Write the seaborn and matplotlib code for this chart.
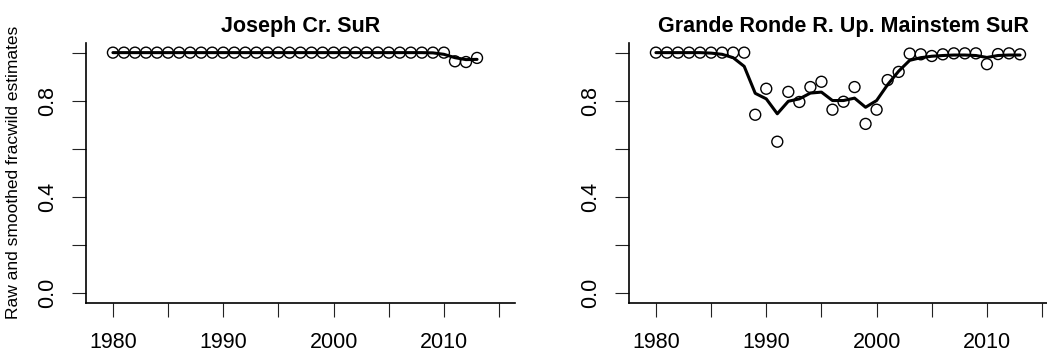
import pandas as pd
import matplotlib
matplotlib.use("Agg")
import matplotlib.pyplot as plt
import seaborn as sns

# style: R base-graphics look (white, L-shaped box, outward ticks)
sns.set_style("ticks")
plt.rcParams["font.family"] = ["Liberation Sans", "DejaVu Sans"]
plt.rcParams.update({"text.color": "black", "axes.labelcolor": "black",
                     "xtick.color": "black", "ytick.color": "black"})

# data
years = [1980, 1981, 1982, 1983, 1984, 1985, 1986, 1987, 1988, 1989,
         1990, 1991, 1992, 1993, 1994, 1995, 1996, 1997, 1998, 1999,
         2000, 2001, 2002, 2003, 2004, 2005, 2006, 2007, 2008, 2009,
         2010, 2011, 2012, 2013]

joseph_raw = [1.0, 1.0, 1.0, 1.0, 1.0, 1.0, 1.0, 1.0, 1.0, 1.0,
              1.0, 1.0, 1.0, 1.0, 1.0, 1.0, 1.0, 1.0, 1.0, 1.0,
              1.0, 1.0, 1.0, 1.0, 1.0, 1.0, 1.0, 1.0, 1.0, 1.0,
              1.0, 0.964, 0.961, 0.978]
joseph_smooth = [1.0, 1.0, 1.0, 1.0, 1.0, 1.0, 1.0, 1.0, 1.0, 1.0,
                 1.0, 1.0, 1.0, 1.0, 1.0, 1.0, 1.0, 1.0, 1.0, 1.0,
                 1.0, 1.0, 1.0, 1.0, 1.0, 1.0, 1.0, 1.0, 1.0, 0.999,
                 0.993, 0.979, 0.971, 0.972]

grande_raw = [1.0, 1.0, 1.0, 1.0, 1.0, 1.0, 1.0, 1.0, 1.0, 0.742,
              0.850, 0.630, 0.837, 0.795, 0.857, 0.879, 0.763, 0.796, 0.857, 0.704,
              0.763, 0.886, 0.920, 0.996, 0.993, 0.986, 0.993, 0.997, 0.997, 0.997,
              0.952, 0.994, 0.997, 0.993]
grande_smooth = [1.0, 1.0, 1.0, 1.0, 1.0, 0.998, 0.993, 0.979, 0.943, 0.831,
                 0.808, 0.746, 0.798, 0.808, 0.832, 0.836, 0.801, 0.801, 0.811, 0.773,
                 0.801, 0.867, 0.923, 0.968, 0.979, 0.985, 0.988, 0.990, 0.990, 0.988,
                 0.980, 0.988, 0.990, 0.990]

titles = ["Joseph Cr. SuR", "Grande Ronde R. Up. Mainstem SuR"]
ylabel = "Raw and smoothed fracwild estimates"

fig = plt.figure(figsize=(10.47, 3.6), dpi=100)
ax1 = fig.add_axes([86 / 1047, 57 / 360, 429 / 1047, 260 / 360])
ax2 = fig.add_axes([629 / 1047, 57 / 360, 429 / 1047, 260 / 360])

panels = [(ax1, joseph_raw, joseph_smooth), (ax2, grande_raw, grande_smooth)]
for i, (ax, raw, smooth) in enumerate(panels):
    df = pd.DataFrame({"year": years, "raw": raw, "smooth": smooth})
    sns.lineplot(data=df, x="year", y="smooth", ax=ax, color="black",
                 linewidth=2.2, zorder=2)
    sns.scatterplot(data=df, x="year", y="raw", ax=ax, marker="o", s=62,
                    facecolor="none", edgecolor="black", linewidth=1.0, zorder=3)

    ax.set_xlim(1977.56, 2016.44)
    ax.set_ylim(-0.04, 1.04)
    ax.set_xticks([1980, 1985, 1990, 1995, 2000, 2005, 2010, 2015])
    ax.set_xticklabels(["1980", "", "1990", "", "2000", "", "2010", ""])
    ax.set_yticks([0.0, 0.2, 0.4, 0.6, 0.8, 1.0])
    ax.set_yticklabels(["0.0", "", "0.4", "", "0.8", ""], rotation=90, va="center")
    ax.tick_params(axis="both", direction="out", length=10, width=0.8,
                   labelsize=15.5, color="#222222", labelcolor="black")
    ax.tick_params(axis="x", pad=11)
    ax.tick_params(axis="y", pad=10)
    for side in ["top", "right"]:
        ax.spines[side].set_visible(False)
    for side in ["left", "bottom"]:
        ax.spines[side].set_linewidth(1.2)
        ax.spines[side].set_color("black")
    ax.set_xlabel("")
    ax.set_ylabel("")
    ax.set_title(titles[i], fontsize=15.5, fontweight="bold", pad=8, color="black")

fig.text(14 / 1047, 0.5 + 8 / 360, ylabel, rotation=90, ha="center", va="center",
         fontsize=12.5, color="black")

fig.savefig("out.png", dpi=100)
